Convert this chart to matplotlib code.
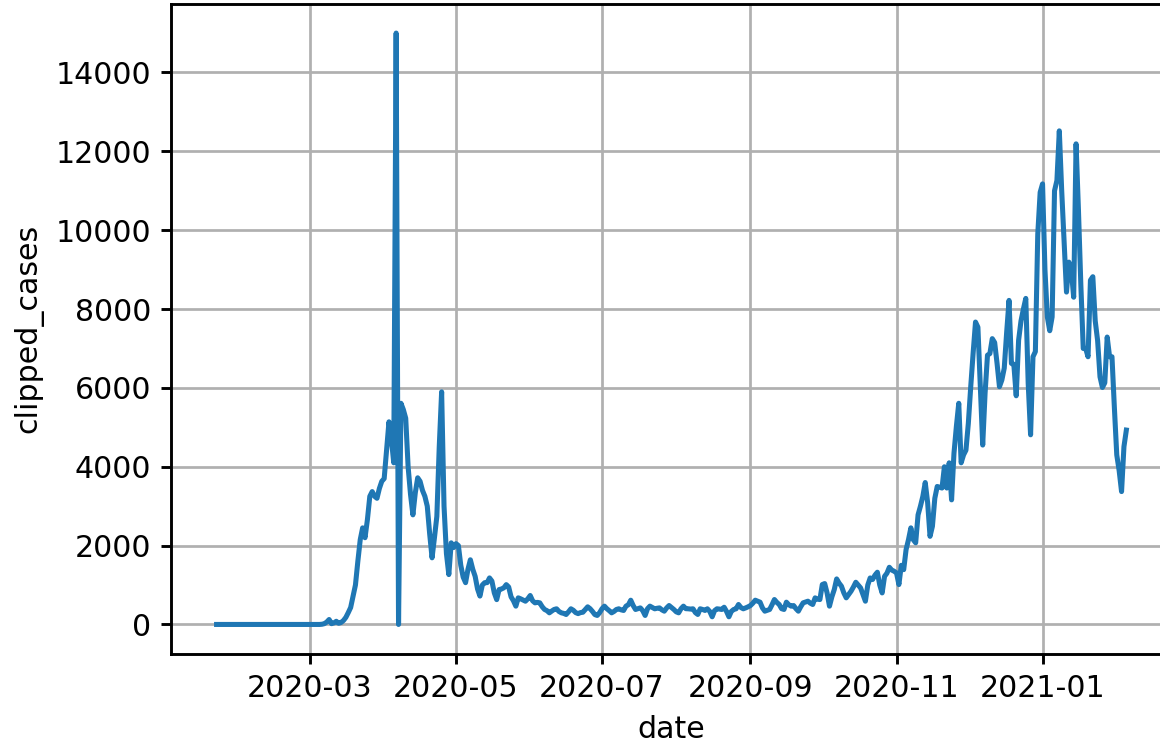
import matplotlib
matplotlib.use("Agg")
import matplotlib.pyplot as plt
import matplotlib.dates as mdates
import pandas as pd

# daily clipped case counts, starting 2020-01-22
start_date = "2020-01-22"

quiet_start = [
    0, 0, 0, 0, 0, 0, 0, 0, 0, 0,
    0, 0, 0, 0, 0, 0, 0, 0, 0, 0,
    0, 0, 0, 0, 0, 0, 0, 0, 0, 0,
    0, 0, 0, 0, 0, 0, 0, 0, 0, 0,
    0, 0, 0, 0,
    5, 20, 60, 125, 20, 40, 80, 30, 50, 100, 180,
]

first_wave = [
    300, 430, 720, 1000, 1600, 2150, 2450, 2200, 2660, 3250,
    3370, 3250, 3200, 3450, 3630, 3700, 4430, 5140, 4700, 4100,
    15000, 0,
    5610, 5450, 5230, 4000, 3300, 2780, 3340, 3720, 3630, 3400,
    3250, 3000, 2300, 1690, 2200, 2740, 4500, 5900, 3000, 1800,
    1265, 2070, 1950, 2050, 2000, 1500, 1200, 1060, 1400, 1640,
    1400, 1220, 900, 720, 1000, 1060,
]

summer = [
    1060, 1180, 1100, 800, 630, 885, 900, 930, 1010, 950,
    700, 600, 464, 675, 650, 620, 590, 650, 734, 600,
    548, 560, 548, 450, 380, 350, 295, 340, 380, 397,
    330, 295, 280, 253, 320, 397, 360, 300, 275, 300,
    310, 380, 447, 400, 330, 250, 228, 300, 400, 464,
    400, 350, 295, 330, 380, 397, 370, 355, 464, 500,
    615, 480, 380, 400, 420, 350, 228, 400, 464, 430,
    397, 410, 420, 370, 337, 420, 480, 430, 380, 320,
    295, 400, 464, 400, 397, 390, 397, 300, 253, 397,
    380, 355, 397, 330, 194, 350, 397, 390, 380, 437,
    330, 194, 330, 380, 397, 506, 430, 397, 420, 447,
    480, 540, 615, 590, 565, 420, 337, 360, 380, 500,
    632, 560, 506, 400, 380, 565, 500, 464, 480, 400,
    337, 450, 548, 570, 590, 540, 506, 675, 640, 632,
]

second_wave = [
    1012, 1037, 800, 464, 700, 885, 1155, 1050, 970, 800,
    675, 760, 843, 950, 1070, 1000, 927, 760, 590, 1000,
    1180, 1140, 1250, 1325, 1000, 800, 1220, 1300, 1450, 1380,
    1350, 1307, 1012, 1500, 1390, 1900, 2150, 2450, 2150, 2070,
    2780, 3000, 3250, 3600, 3090, 2235, 2490, 3200, 3500, 3480,
    3460, 4000, 3460, 4100, 3160, 4340, 5020, 5610, 4100, 4300,
    4420, 5100, 6030, 6880, 7670, 7540, 6030, 4550, 5870, 6830,
    6870, 7250, 7150, 6620, 6030, 6200, 6500, 7400, 8220, 6620,
    6600, 5800, 7210, 7700, 8000, 8270, 6120, 4810, 6790, 6920,
    9900, 10960, 11175, 9000, 7800, 7450, 7800, 11000, 11260, 12520,
    11000, 9700, 8430, 9190, 9000, 8300, 12190, 10500, 8600, 7000,
    7000, 6790, 8730, 8820, 7700, 7200, 6280, 6010, 6130, 7290,
    6790, 6790, 5500, 4300, 3900, 3370, 4510, 4930,
]

clipped_cases = quiet_start + first_wave + summer + second_wave
dates = pd.date_range(start_date, periods=len(clipped_cases), freq="D")

plt.rcParams["font.size"] = 10.4
plt.rcParams["axes.linewidth"] = 1.0
plt.rcParams["xtick.major.width"] = 1.0
plt.rcParams["ytick.major.width"] = 1.0
plt.rcParams["grid.linewidth"] = 0.95

fig = plt.figure(figsize=(1160 / 208, 746 / 208), dpi=208)
ax = fig.add_axes([0.1475, 0.1233, 0.8627, 0.872])

ax.plot(dates, clipped_cases, color="#1f77b4", linewidth=1.75)
ax.grid(True)

ax.xaxis.set_major_locator(mdates.MonthLocator(bymonth=[1, 3, 5, 7, 9, 11]))
ax.xaxis.set_major_formatter(mdates.DateFormatter("%Y-%m"))

ax.set_xlabel("date")
ax.set_ylabel("clipped_cases")

fig.savefig("out.png", dpi=208)
